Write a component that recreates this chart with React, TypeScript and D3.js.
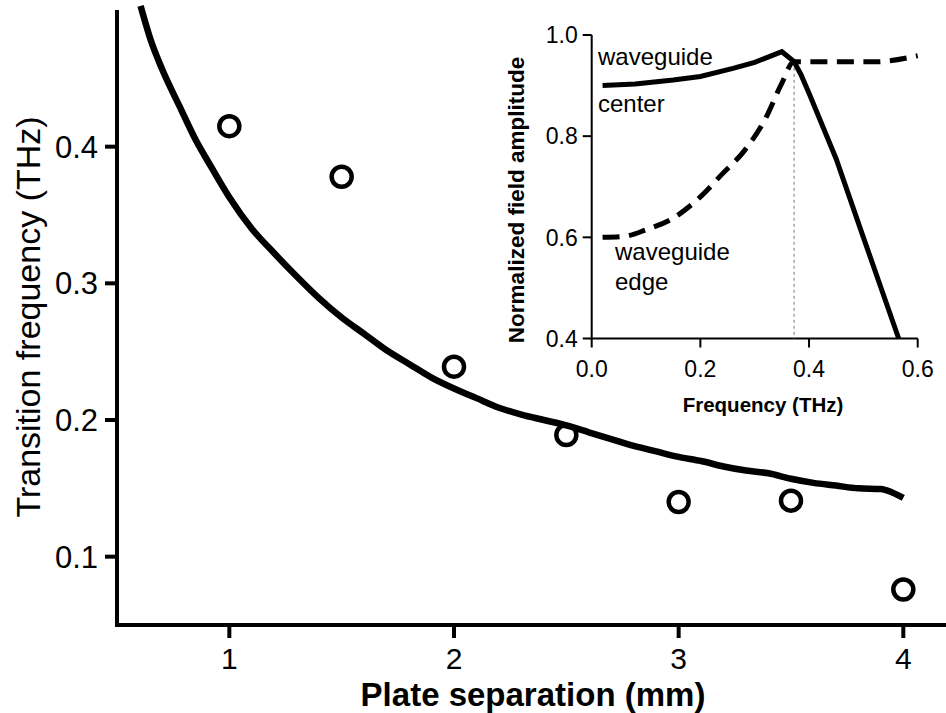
import React from "react";
import * as d3 from "d3";

// ---- Main chart data ----
const xTicksMain = [1, 2, 3, 4];
const yTicksMain = [0.1, 0.2, 0.3, 0.4];
const separations = [1, 1.5, 2, 2.5, 3, 3.5, 4];
const measuredFreq = [0.415, 0.378, 0.239, 0.189, 0.14, 0.141, 0.076];
const curveSep = [0.605, 0.65, 0.7, 0.777, 0.85, 0.92, 1.0, 1.1, 1.2, 1.3, 1.4, 1.5, 1.6, 1.7, 1.8, 1.9, 2.0, 2.1, 2.2, 2.3, 2.4, 2.5, 2.6, 2.7, 2.8, 2.9, 3.0, 3.1, 3.2, 3.3, 3.4, 3.5, 3.6, 3.7, 3.8, 3.9, 3.95, 4.0];
const curveFreq = [0.503, 0.478, 0.457, 0.43, 0.405, 0.385, 0.363, 0.34, 0.322, 0.305, 0.289, 0.275, 0.263, 0.251, 0.241, 0.231, 0.223, 0.216, 0.209, 0.204, 0.2, 0.196, 0.191, 0.186, 0.181, 0.177, 0.173, 0.17, 0.166, 0.163, 0.161, 0.157, 0.154, 0.152, 0.15, 0.1495, 0.147, 0.143];

// ---- Inset data ----
const xTicksInset = [0.0, 0.2, 0.4, 0.6];
const yTicksInset = [0.4, 0.6, 0.8, 1.0];
const centerFreq = [0.02, 0.08, 0.15, 0.2, 0.26, 0.3, 0.35, 0.372, 0.385, 0.4, 0.45, 0.5, 0.565];
const centerAmp = [0.9, 0.903, 0.911, 0.918, 0.934, 0.946, 0.967, 0.948, 0.922, 0.885, 0.755, 0.6, 0.4];
const edgeFreq = [0.02, 0.06, 0.1, 0.15, 0.2, 0.24, 0.28, 0.32, 0.35, 0.372, 0.45, 0.52, 0.6];
const edgeAmp = [0.6, 0.602, 0.615, 0.638, 0.68, 0.725, 0.77, 0.835, 0.905, 0.947, 0.947, 0.947, 0.959];
const cutoffFreq = 0.3725;
const cutoffAmp = 0.947;

const FONT = "'Liberation Sans', Arial, Helvetica, sans-serif";

export default function App() {
  const W = 946, H = 713;
  // main scales
  const x = d3.scaleLinear().domain([0.5, 4.19]).range([117, 946]);
  const y = d3.scaleLinear().domain([0.05, 0.5]).range([625, 10]);
  // inset scales
  const xi = d3.scaleLinear().domain([0, 0.6]).range([591.7, 917.7]);
  const yi = d3.scaleLinear().domain([0.4, 1.0]).range([338.5, 35]);

  const mainLine = d3
    .line<number>()
    .x((_, i) => x(curveSep[i]))
    .y((d) => y(d))
    .curve(d3.curveMonotoneX);

  const centerLine = d3
    .line<number>()
    .x((_, i) => xi(centerFreq[i]))
    .y((d) => yi(d))
    .curve(d3.curveLinear);

  const edgeLine = d3
    .line<number>()
    .x((_, i) => xi(edgeFreq[i]))
    .y((d) => yi(d))
    .curve(d3.curveMonotoneX);

  const x0 = x.range()[0];
  const yb = y.range()[0];

  return (
    <svg
      width={W}
      height={H}
      style={{ position: "absolute", left: 0, top: 0, background: "#fff" }}
      fontFamily={FONT}
    >
      <rect x={0} y={0} width={W} height={H} fill="#fff" />
      {/* main axes */}
      <path d={`M${x0},${y.range()[1]}V${yb}H${x.range()[1]}`} fill="none" stroke="#000" strokeWidth={4} strokeLinejoin="miter" />
      {yTicksMain.map((t) => (
        <g key={"yt" + t}>
          <line x1={x0 - 12} x2={x0} y1={y(t)} y2={y(t)} stroke="#000" strokeWidth={4} />
          <text x={x0 - 19} y={y(t)} dy="0.35em" textAnchor="end" fontSize={31}>
            {t.toFixed(1)}
          </text>
        </g>
      ))}
      {xTicksMain.map((t) => (
        <g key={"xt" + t}>
          <line x1={x(t)} x2={x(t)} y1={yb} y2={yb + 13} stroke="#000" strokeWidth={4} />
          <text x={x(t)} y={669} textAnchor="middle" fontSize={30}>
            {t}
          </text>
        </g>
      ))}
      <text x={533} y={706} textAnchor="middle" fontSize={33} fontWeight="bold">
        Plate separation (mm)
      </text>
      <text transform={`translate(40,317) rotate(-90)`} textAnchor="middle" fontSize={34}>
        Transition frequency (THz)
      </text>

      {/* main curve */}
      <path d={mainLine(curveFreq) || ""} fill="none" stroke="#000" strokeWidth={6.5} strokeLinejoin="round" />
      {measuredFreq.map((v, i) => (
        <circle key={"c" + i} cx={x(separations[i])} cy={y(v)} r={10} fill="none" stroke="#000" strokeWidth={4.5} />
      ))}

      {/* inset */}
      <path
        d={`M${xi.range()[0]},${yi.range()[1]}V${yi.range()[0]}H${xi.range()[1]}`}
        fill="none"
        stroke="#000"
        strokeWidth={2}
      />
      {yTicksInset.map((t) => (
        <g key={"iyt" + t}>
          <line x1={xi(0) - 9} x2={xi(0)} y1={yi(t)} y2={yi(t)} stroke="#000" strokeWidth={2} />
          <text x={xi(0) - 14} y={yi(t)} dy="0.36em" textAnchor="end" fontSize={23}>
            {t.toFixed(1)}
          </text>
        </g>
      ))}
      {xTicksInset.map((t) => (
        <g key={"ixt" + t}>
          <line x1={xi(t)} x2={xi(t)} y1={yi(0.4)} y2={yi(0.4) + 9} stroke="#000" strokeWidth={2} />
          <text x={xi(t)} y={377} textAnchor="middle" fontSize={23}>
            {t.toFixed(1)}
          </text>
        </g>
      ))}
      <text x={763} y={412} textAnchor="middle" fontSize={20.5} fontWeight="bold">
        Frequency (THz)
      </text>
      <text transform={`translate(524,200) rotate(-90)`} textAnchor="middle" fontSize={22.5} fontWeight="bold">
        Normalized field amplitude
      </text>

      <line
        x1={xi(cutoffFreq)}
        x2={xi(cutoffFreq)}
        y1={yi(cutoffAmp)}
        y2={yi(0.4)}
        stroke="#777"
        strokeWidth={1}
        strokeDasharray="3,3"
      />
      <path d={edgeLine(edgeAmp) || ""} fill="none" stroke="#000" strokeWidth={5} strokeDasharray="17,9.5" />
      <path d={centerLine(centerAmp) || ""} fill="none" stroke="#000" strokeWidth={5} strokeLinejoin="miter" />

      <text x={598} y={65} fontSize={24}>waveguide</text>
      <text x={598} y={112} fontSize={24}>center</text>
      <text x={615} y={260} fontSize={24}>waveguide</text>
      <text x={615} y={290} fontSize={24}>edge</text>
    </svg>
  );
}
